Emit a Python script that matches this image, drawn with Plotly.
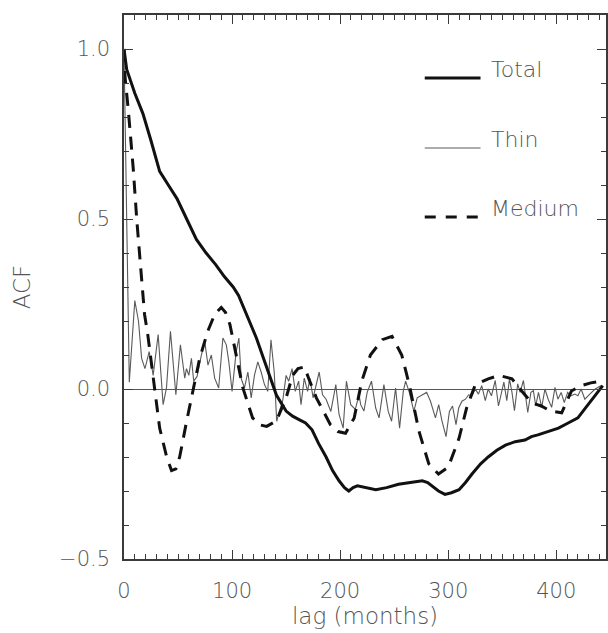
import plotly.graph_objects as go

# ---- data ----
total_lag = [0, 2.5, 10, 17.5, 25, 33, 41, 49, 58, 67, 76, 85, 93, 101, 106, 112, 117, 122.5, 128, 133,
             141, 150, 156, 162, 168, 174, 180, 187, 193, 199, 204, 208, 212, 216, 224, 233, 243, 254,
             265, 276, 281, 285, 291, 297, 303, 310, 316, 322, 330, 337, 345, 353, 362, 371, 377, 383,
             392, 402, 411, 420, 426, 432, 438, 443]
total_acf = [1.0, 0.94, 0.87, 0.81, 0.73, 0.64, 0.60, 0.56, 0.50, 0.44, 0.40, 0.365, 0.33, 0.30, 0.275,
             0.23, 0.19, 0.15, 0.10, 0.053, -0.018, -0.065, -0.08, -0.09, -0.10, -0.12, -0.16, -0.20,
             -0.24, -0.27, -0.29, -0.30, -0.29, -0.285, -0.29, -0.296, -0.29, -0.28, -0.275, -0.27,
             -0.275, -0.285, -0.30, -0.31, -0.305, -0.296, -0.275, -0.25, -0.22, -0.20, -0.18, -0.165,
             -0.155, -0.15, -0.14, -0.135, -0.125, -0.115, -0.10, -0.085, -0.06, -0.035, -0.01, 0.01]

medium_lag = [0, 0.9, 4, 8.5, 12, 16.5, 19, 22, 27, 33, 39.5, 44, 48, 51.5, 58, 64, 70, 77.5, 84, 90,
              94, 98, 105, 110, 119, 125, 132, 141, 150, 156, 161, 167, 171, 178, 191, 198, 205, 213,
              220, 228, 239, 248, 257, 264, 273, 282, 291, 300, 310, 317, 325, 337, 347, 359, 368,
              377, 386, 395, 405, 414, 423, 432, 441]
medium_acf = [1.0, 0.92, 0.82, 0.65, 0.49, 0.32, 0.22, 0.16, 0.03, -0.115, -0.20, -0.24, -0.235, -0.20,
              -0.094, 0.003, 0.09, 0.17, 0.22, 0.24, 0.225, 0.19, 0.08, 0.003, -0.085, -0.105, -0.11,
              -0.094, -0.026, 0.04, 0.06, 0.065, 0.03, -0.026, -0.105, -0.125, -0.13, -0.085, 0.023,
              0.10, 0.145, 0.155, 0.10, 0.012, -0.125, -0.22, -0.25, -0.23, -0.145, -0.056, 0.012,
              0.03, 0.04, 0.03, -0.006, -0.04, -0.05, -0.065, -0.07, -0.006, 0.01, 0.018, 0.023]

thin_lag = [0, 4.9, 10, 13.4, 16.3, 19.4, 23.3, 27, 31.6, 36.2, 39.3, 43, 48, 52.2, 56.2, 57.8, 60, 62.4,
            64.5, 67.6, 71.6, 74.7, 77.7, 80.8, 83.9, 87.6, 91.5, 94.7, 97, 100, 103.8, 106.3, 108.5,
            111.5, 114.6, 117.7, 120.7, 123.8, 126.9, 130, 133, 136, 139, 141.3, 143.8, 146.8, 150,
            152.4, 155.5, 158.5, 161.6, 163.8, 166.8, 169.9, 172, 175, 180.6, 183.7, 187, 191.4, 196,
            199, 202.8, 205.8, 209.8, 214, 217.5, 219, 222, 225, 229, 232.9, 236, 240.5, 244.5, 247.6,
            251.3, 255, 258.4, 260.6, 264, 268.2, 271.3, 275.9, 280, 283.6, 288.2, 291.2, 294.3, 298,
            301.1, 304, 307.2, 309.7, 312.7, 316, 318.9, 322, 325, 328, 331, 334.3, 337, 340, 343.5,
            346.5, 349, 351.5, 354.2, 356.7, 359, 361.3, 364.3, 366.5, 369.6, 373.6, 376.5, 378.8,
            381, 383.5, 386.5, 389.5, 392.5, 395.7, 398.8, 401.5, 404.5, 407.4, 410.5, 413.5, 417.2,
            420, 423, 426.4, 431, 436, 441.7]
thin_acf = [1.0, 0.02, 0.26, 0.20, 0.09, 0.06, 0.11, 0.04, 0.16, -0.046, 0.003, 0.17, -0.017, 0.13, 0.032,
            0.06, 0.04, 0.09, 0.023, 0.037, 0.10, 0.14, 0.07, 0.10, 0.032, 0.003, 0.15, 0.13, 0.08,
            -0.007, 0.11, 0.15, 0.03, 0.003, 0.05, -0.026, 0.04, 0.08, 0.05, 0.013, -0.007, 0.145, 0.05,
            -0.095, -0.065, -0.036, 0.04, 0.023, 0.06, -0.007, 0.023, -0.046, 0.032, -0.007, 0.032,
            -0.026, 0.05, -0.017, -0.03, -0.066, 0.013, -0.075, -0.115, 0.023, -0.046, -0.06, -0.017,
            -0.046, -0.065, -0.01, 0.023, -0.056, -0.085, 0.013, -0.066, -0.095, 0.003, -0.115, -0.007,
            0.023, -0.01, -0.066, -0.026, -0.017, -0.01, -0.036, -0.085, -0.046, -0.095, -0.14, -0.066,
            -0.05, -0.105, -0.056, -0.036, -0.03, -0.017, -0.02, 0.0, -0.015, 0.01, -0.034, 0.0, -0.02,
            0.025, -0.05, -0.01, 0.02, -0.034, 0.03, -0.01, -0.064, 0.015, -0.01, 0.025, -0.069, -0.01,
            -0.005, -0.05, -0.01, -0.054, 0.0, -0.03, -0.054, 0.005, -0.03, -0.01, -0.04, -0.01, -0.02,
            -0.015, -0.02, 0.0, -0.03, -0.015, 0.0, 0.01]

legend_names = ["Total", "Thin", "Medium"]
x_ticks = [0, 100, 200, 300, 400]
y_ticks = [-0.5, 0.0, 0.5, 1.0]

FONT = "DejaVu Sans"
WEIGHT = 200
TXT = "#555555"
AX = "#3a3a3a"

fig = go.Figure()
fig.add_trace(go.Scatter(x=thin_lag, y=thin_acf, mode="lines", name=legend_names[1],
                         line=dict(color="#5a5a5a", width=1.1), showlegend=False))
fig.add_trace(go.Scatter(x=medium_lag, y=medium_acf, mode="lines", name=legend_names[2],
                         line=dict(color="#111111", width=3, dash="13px,9px"), showlegend=False))
fig.add_trace(go.Scatter(x=total_lag, y=total_acf, mode="lines", name=legend_names[0],
                         line=dict(color="#111111", width=3), showlegend=False))

# manual legend (paper coordinates)
L, R, T, B = 124, 608, 15, 559
def px(x): return (x - L) / (R - L)
def py(y): return (B - y) / (B - T)

legend_rows = [(78, dict(color="#111111", width=3)),
               (148, dict(color="#5a5a5a", width=1.1)),
               (217, dict(color="#111111", width=3, dash="11px,10px"))]
for name, (ly, lstyle) in zip(legend_names, legend_rows):
    fig.add_shape(type="line", xref="paper", yref="paper", x0=px(426), x1=px(482),
                  y0=py(ly), y1=py(ly), line=lstyle)
    fig.add_annotation(xref="paper", yref="paper", x=px(491), y=py(ly - 8), text=name,
                       showarrow=False, xanchor="left", yanchor="middle",
                       font=dict(family=FONT, size=22, color=TXT, weight=WEIGHT))

fig.update_layout(
    width=608, height=633,
    margin=dict(l=L, r=608 - R, t=T, b=633 - B),
    paper_bgcolor="white", plot_bgcolor="white",
    font=dict(family=FONT, color=TXT, size=21, weight=WEIGHT),
)
fig.update_xaxes(
    range=[0, 446], tickvals=x_ticks, ticktext=[str(v) for v in x_ticks],
    tickfont=dict(family=FONT, size=21, color=TXT, weight=WEIGHT),
    showgrid=False, zeroline=False, showline=True, linecolor=AX, linewidth=1.5,
    mirror="allticks", ticks="inside", ticklen=9, tickwidth=1.2, tickcolor=AX,
    minor=dict(dtick=10, tick0=0, ticks="inside", ticklen=5, tickwidth=1, tickcolor=AX),
    ticklabelstandoff=12,
    title=dict(text="lag (months)", font=dict(family=FONT, size=23, color=TXT, weight=WEIGHT), standoff=4),
)
fig.update_yaxes(
    range=[-0.5, 1.1], tickvals=y_ticks, ticktext=["\u22120.5", "0.0", "0.5", "1.0"],
    tickfont=dict(family=FONT, size=21, color=TXT, weight=WEIGHT),
    showgrid=False, zeroline=True, zerolinecolor="#555555", zerolinewidth=1,
    showline=True, linecolor=AX, linewidth=1.5,
    mirror="allticks", ticks="inside", ticklen=9, tickwidth=1.2, tickcolor=AX,
    minor=dict(dtick=0.1, tick0=0, ticks="inside", ticklen=5, tickwidth=1, tickcolor=AX),
    ticklabelstandoff=8,
    title=dict(text="ACF", font=dict(family=FONT, size=23, color=TXT, weight=WEIGHT), standoff=22),
)

fig.write_html("out.html")
